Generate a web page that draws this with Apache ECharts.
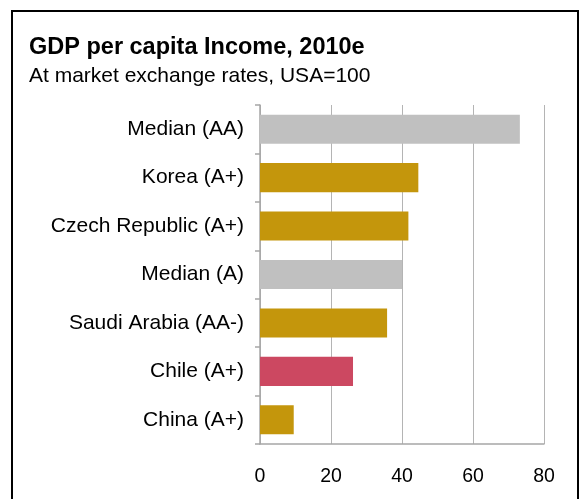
<!DOCTYPE html>
<html>
<head>
<meta charset="utf-8">
<script src="https://cdn.jsdelivr.net/npm/echarts@6/dist/echarts.min.js"></script>
<style>
  html, body { margin: 0; padding: 0; background: #fff; }
  #chart { width: 582px; height: 499px; }
</style>
</head>
<body>
<div id="chart"></div>
<script>
// Categories, top to bottom
const categories = ['Median (AA)', 'Korea (A+)', 'Czech Republic (A+)', 'Median (A)', 'Saudi Arabia (AA-)', 'Chile (A+)', 'China (A+)'];
// GDP per capita, USA = 100
const values = [73.2, 44.6, 41.8, 40, 35.8, 26.2, 9.5];
// Bar kind: median, peer, highlight
const kinds = ['median', 'peer', 'peer', 'median', 'peer', 'highlight', 'peer'];
const xTicks = [0, 20, 40, 60, 80];

const palette = { median: '#C0C0C0', peer: '#C4960C', highlight: '#CC4861' };
const font = '"Liberation Sans", Arial, sans-serif';

const chart = echarts.init(document.getElementById('chart'), null, { renderer: 'canvas' });
chart.setOption({
  backgroundColor: '#fff',
  animation: false,
  title: {
    text: 'GDP per capita Income, 2010e',
    subtext: 'At market exchange rates, USA=100',
    left: 24,
    top: 31,
    itemGap: 6,
    textStyle: { fontFamily: font, fontSize: 23.5, fontWeight: 'bold', color: '#000' },
    subtextStyle: { fontFamily: font, fontSize: 21, color: '#000' }
  },
  graphic: [{
    type: 'rect',
    shape: { x: 12, y: 11, width: 566, height: 520 },
    style: { fill: 'none', stroke: '#000', lineWidth: 2 },
    silent: true
  }],
  grid: { left: 260, right: 38, top: 105, bottom: 55, containLabel: false },
  xAxis: {
    type: 'value',
    min: xTicks[0],
    max: xTicks[xTicks.length - 1],
    interval: 20,
    axisLine: { show: true, lineStyle: { color: '#A6A6A6', width: 1.5 } },
    axisTick: { show: false },
    axisLabel: { fontFamily: font, fontSize: 19.5, color: '#000', margin: 23 },
    splitLine: { show: true, lineStyle: { color: '#B4B4B4', width: 1 } }
  },
  yAxis: {
    type: 'category',
    data: categories,
    inverse: true,
    axisLine: { show: true, lineStyle: { color: '#A6A6A6', width: 1.5 } },
    axisTick: { show: true, length: 5, lineStyle: { color: '#A6A6A6', width: 1.5 } },
    axisLabel: { fontFamily: font, fontSize: 21, color: '#000', margin: 16 }
  },
  series: [{
    type: 'bar',
    data: values.map((v, i) => ({ value: v, itemStyle: { color: palette[kinds[i]] } })),
    barCategoryGap: '40%'
  }]
});
</script>
</body>
</html>
